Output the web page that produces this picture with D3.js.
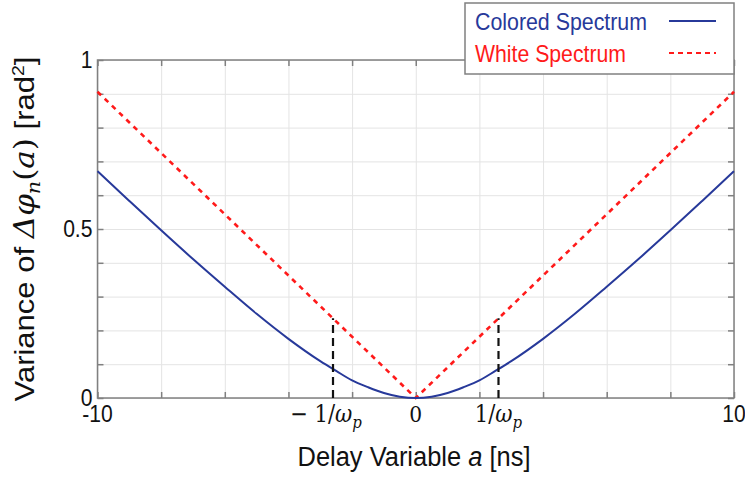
<!DOCTYPE html>
<html><head><meta charset="utf-8">
<script src="https://cdn.jsdelivr.net/npm/d3@7/dist/d3.min.js"></script>
<style>body{margin:0;background:#fff}svg{display:block}</style>
</head><body>
<script>
// ---- data ----
const delayA     = [-10,-9,-8,-7,-6,-5,-4,-3,-2.5,-2,-1.5,-1,-0.5,0,0.5,1,1.5,2,2.5,3,4,5,6,7,8,9,10];
const coloredVar = [0.671,0.583,0.496,0.411,0.329,0.249,0.175,0.109,0.080,0.052,0.032,0.015,0.004,0,0.004,0.015,0.032,0.052,0.080,0.109,0.175,0.249,0.329,0.411,0.496,0.583,0.671];
const whiteA     = [-10,0,10];
const whiteVar   = [0.906,0,0.906];
const markerA    = [-2.6,2.6];
const markerTop  = [0.236,0.236];
const xTicks     = [-10,-8,-6,-4,-2,0,2,4,6,8,10];
const yTicks     = [0,0.1,0.2,0.3,0.4,0.5,0.6,0.7,0.8,0.9,1];
const yTickLabels= [[0,"0"],[0.5,"0.5"],[1,"1"]];
const seriesNames= ["Colored Spectrum","White Spectrum"];

const W=745,H=478;
const blue="#27399a", red="#ff1a1a", axisCol="#808080", gridCol="#e4e4e4";
const sans="'Liberation Sans', Arial, sans-serif", serif="'DejaVu Serif','Liberation Serif',serif";
const svg=d3.select("body").append("svg").attr("width",W).attr("height",H);
const x=d3.scaleLinear().domain([-10,10]).range([97.5,734]);
const y=d3.scaleLinear().domain([0,1]).range([398,60]);
const [x0,x1]=x.range(), [y0,y1]=y.range();

// grid
svg.append("g").attr("transform",`translate(0,${y0})`)
  .call(d3.axisBottom(x).tickValues(xTicks).tickSize(-(y0-y1)).tickFormat(""))
  .call(g=>{g.select(".domain").remove();g.selectAll("line").attr("stroke",gridCol).attr("stroke-width",1);});
svg.append("g").attr("transform",`translate(${x0},0)`)
  .call(d3.axisLeft(y).tickValues(yTicks).tickSize(-(x1-x0)).tickFormat(""))
  .call(g=>{g.select(".domain").remove();g.selectAll("line").attr("stroke",gridCol).attr("stroke-width",1);});

// inward ticks on all four sides
function ticks(axis,tr){
  svg.append("g").attr("transform",tr).call(axis)
   .call(g=>{g.select(".domain").remove();g.selectAll("line").attr("stroke",axisCol).attr("stroke-width",1.5);});
}
ticks(d3.axisBottom(x).tickValues(xTicks).tickSize(-6).tickFormat(""),`translate(0,${y0})`);
ticks(d3.axisTop(x).tickValues(xTicks).tickSize(-6).tickFormat(""),`translate(0,${y1})`);
ticks(d3.axisLeft(y).tickValues(yTicks).tickSize(-6).tickFormat(""),`translate(${x0},0)`);
ticks(d3.axisRight(y).tickValues(yTicks).tickSize(-6).tickFormat(""),`translate(${x1},0)`);
svg.append("rect").attr("x",x0).attr("y",y1).attr("width",x1-x0).attr("height",y0-y1)
  .attr("fill","none").attr("stroke",axisCol).attr("stroke-width",1.5);

// curves
const line=d3.line().x(d=>x(d[0])).y(d=>y(d[1]));
svg.append("path").datum(whiteA.map((a,i)=>[a,whiteVar[i]]))
  .attr("d",line).attr("fill","none").attr("stroke",red).attr("stroke-width",2.6).attr("stroke-dasharray","5,5");
svg.append("path").datum(delayA.map((a,i)=>[a,coloredVar[i]]))
  .attr("d",line.curve(d3.curveMonotoneX)).attr("fill","none").attr("stroke",blue).attr("stroke-width",2);
markerA.forEach((a,i)=>{
  svg.append("line").attr("x1",x(a)).attr("x2",x(a)).attr("y1",y(0)).attr("y2",y(markerTop[i]))
    .attr("stroke","#111").attr("stroke-width",2.2).attr("stroke-dasharray","8,5");
});

// y tick labels
yTickLabels.forEach(([v,t])=>{
  svg.append("text").attr("class","sq").attr("x",x0-5).attr("y",y(v)+8).attr("text-anchor","end")
   .attr("font-family",sans).attr("font-size",24).attr("fill","#111").text(t);
});
// x tick labels
function xlab(px,build,fam){
  const t=svg.append("text").attr("class","sq").attr("x",px).attr("y",422).attr("text-anchor","middle")
    .attr("font-family",fam).attr("font-size",24).attr("fill","#111");
  build(t);
}
xlab(x(-10),t=>t.text("-10"),sans);
xlab(x(10),t=>t.text("10"),sans);
xlab(x(0),t=>t.attr("font-size",23).text("0"),serif);
xlab(x(markerA[0])-7,t=>{t.attr("font-size",24);t.append("tspan").text("\u2212 1/");t.append("tspan").attr("font-style","italic").text("\u03c9");t.append("tspan").attr("font-style","italic").attr("font-size",17).attr("dy",6).text("p");},serif);
xlab(x(markerA[1]),t=>{t.attr("font-size",24);t.append("tspan").text("1/");t.append("tspan").attr("font-style","italic").text("\u03c9");t.append("tspan").attr("font-style","italic").attr("font-size",17).attr("dy",6).text("p");},serif);

// x axis title
const xt=svg.append("text").attr("x",414).attr("y",466).attr("text-anchor","middle")
  .attr("font-family",sans).attr("font-size",27).attr("fill","#111");
xt.append("tspan").text("Delay Variable ");
xt.append("tspan").attr("font-style","italic").text("a");
xt.append("tspan").text(" [ns]");
xt.attr("textLength",233).attr("lengthAdjust","spacingAndGlyphs");

// y axis title
const yt=svg.append("text").attr("transform","translate(34,229) rotate(-90)").attr("text-anchor","middle")
  .attr("font-family",sans).attr("font-size",27).attr("fill","#111");
yt.append("tspan").text("Variance of ");
yt.append("tspan").attr("font-family",serif).attr("font-style","italic").text("\u0394\u03c6");
yt.append("tspan").attr("font-family",serif).attr("font-style","italic").attr("font-size",18).attr("dy",6).text("n");
yt.append("tspan").attr("font-family",serif).attr("dy",-6).text("(");
yt.append("tspan").attr("font-family",serif).attr("font-style","italic").text("a");
yt.append("tspan").attr("font-family",serif).text(")");
yt.append("tspan").text(" [rad");
yt.append("tspan").attr("font-size",17).attr("dy",-10).text("2");
yt.append("tspan").attr("dy",10).text("]");
yt.attr("textLength",345).attr("lengthAdjust","spacingAndGlyphs");

// legend
const lg=svg.append("g");
lg.append("rect").attr("x",465).attr("y",3).attr("width",269).attr("height",71)
  .attr("fill","#fff").attr("stroke",axisCol).attr("stroke-width",1.5);
[[blue,null,30],[red,"5,4",62]].forEach(([c,dash,yy],i)=>{
  lg.append("text").attr("x",475).attr("y",yy).attr("font-family",sans).attr("font-size",24)
    .attr("fill",c).text(seriesNames[i]).attr("textLength",i?151:172).attr("lengthAdjust","spacingAndGlyphs");
  lg.append("line").attr("x1",669).attr("x2",716).attr("y1",yy-9).attr("y2",yy-9)
    .attr("stroke",c).attr("stroke-width",i?1.8:2).attr("stroke-dasharray",dash);
});

// squeeze tick labels horizontally like the reference
svg.selectAll("text.sq").each(function(){
  const n=this.getComputedTextLength();
  d3.select(this).attr("textLength",n*0.88).attr("lengthAdjust","spacingAndGlyphs");
});
</script>
</body></html>
